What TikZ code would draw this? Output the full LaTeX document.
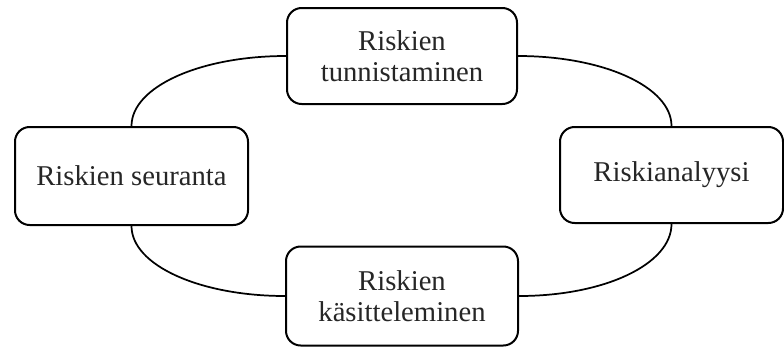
\documentclass[tikz,border=0pt]{standalone}
\usepackage{fontspec}
\setmainfont{Liberation Serif}
\usetikzlibrary{backgrounds}
\begin{document}
\begin{tikzpicture}[x=0.75pt,y=-0.75pt,
  stage/.style={draw=black,line width=1.5pt,rounded corners=11pt,fill=white,
    align=center,inner sep=0pt,font=\fontsize{21.5}{23.5}\selectfont,text=black!85},
  link/.style={draw=black,line width=1.3pt}]
\useasboundingbox (0,0) rectangle (784,347);
\node[stage,minimum width=230*0.75pt,minimum height=96*0.75pt] (top) at (402,56) {Riskien\\tunnistaminen};
\node[stage,minimum width=233*0.75pt,minimum height=98*0.75pt] (left) at (131.5,176) {Riskien seuranta};
\node[stage,minimum width=223*0.75pt,minimum height=96*0.75pt] (right) at (671.5,175) {Riskianalyysi};
\node[stage,minimum width=232*0.75pt,minimum height=99*0.75pt] (bottom) at (402,296) {Riskien\\käsitteleminen};
\begin{scope}[on background layer]
\draw[link] (top.west) .. controls +(-85.9,0) and +(0,-39.2) .. (left.north);
\draw[link] (top.east) .. controls +(85.3,0) and +(0,-39.2) .. (right.north);
\draw[link] (left.south) .. controls +(0,39.2) and +(-85.3,0) .. (bottom.west);
\draw[link] (right.south) .. controls +(0,40.3) and +(85.3,0) .. (bottom.east);
\end{scope}
\end{tikzpicture}
\end{document}
